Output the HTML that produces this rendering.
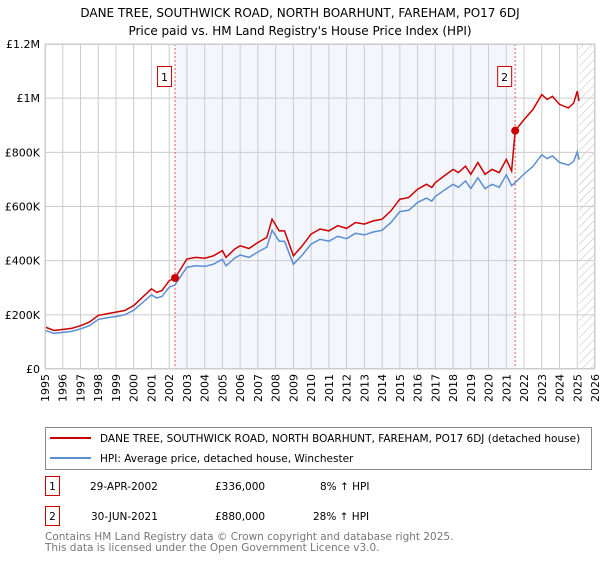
<!DOCTYPE html>
<html><head><meta charset="utf-8"><style>
body{margin:0;background:#fff;font-family:"Liberation Sans","DejaVu Sans",sans-serif;}
svg text{font-family:"DejaVu Sans","Liberation Sans",sans-serif;}
</style></head><body>
<svg width="600" height="560" id="chart">
<text x="300" y="17" text-anchor="middle" font-size="12">DANE TREE, SOUTHWICK ROAD, NORTH BOARHUNT, FAREHAM, PO17 6DJ</text>
<text x="300" y="35" text-anchor="middle" font-size="12">Price paid vs. HM Land Registry's House Price Index (HPI)</text>
<g id="plot"></g>
<g>
<rect x="45.5" y="427.5" width="546" height="42" fill="#fff" stroke="#888"/>
<line x1="50" y1="438" x2="91" y2="438" stroke="#cc0000" stroke-width="2"/>
<text x="100" y="442" font-size="10.5">DANE TREE, SOUTHWICK ROAD, NORTH BOARHUNT, FAREHAM, PO17 6DJ (detached house)</text>
<line x1="50" y1="458" x2="91" y2="458" stroke="#5b8fd1" stroke-width="2"/>
<text x="100" y="462" font-size="10.5">HPI: Average price, detached house, Winchester</text>
</g>
<g font-size="10.5">
<rect x="45.5" y="476.5" width="14" height="19" fill="#fff" stroke="#cc0000"/>
<text x="52.5" y="490" text-anchor="middle">1</text>
<text x="90" y="490">29-APR-2002</text><text x="215" y="490">£336,000</text><text x="320" y="490">8% ↑ HPI</text>
<rect x="45.5" y="506.5" width="14" height="19" fill="#fff" stroke="#cc0000"/>
<text x="52.5" y="520" text-anchor="middle">2</text>
<text x="91" y="520">30-JUN-2021</text><text x="215" y="520">£880,000</text><text x="313" y="520">28% ↑ HPI</text>
</g>
<text x="45" y="540" font-size="10.5" fill="#777">Contains HM Land Registry data © Crown copyright and database right 2025.</text>
<text x="45" y="551" font-size="10.5" fill="#777">This data is licensed under the Open Government Licence v3.0.</text>
</svg>
<script>
const years=[1995,1995.5,1996.5,1997,1997.5,1998,1998.5,1999,1999.5,2000,2000.5,2001,2001.3,2001.6,2002,2002.33,2003,2003.5,2004,2004.5,2005,2005.2,2005.7,2006,2006.5,2007,2007.5,2007.8,2008.2,2008.5,2009,2009.5,2010,2010.5,2011,2011.5,2012,2012.5,2013,2013.5,2014,2014.5,2015,2015.5,2016,2016.5,2016.8,2017,2017.5,2018,2018.3,2018.7,2019,2019.4,2019.8,2020.2,2020.6,2021,2021.3,2021.5,2022,2022.5,2023,2023.3,2023.6,2024,2024.5,2024.8,2025,2025.1];
const priceSeries=[155,142,150,160,173,198,204,210,216,234,265,296,283,290,326,336,406,412,409,418,437,412,443,455,445,467,486,553,510,510,418,455,498,517,510,529,519,541,535,547,553,584,627,633,664,682,670,688,713,737,725,749,719,762,719,737,725,774,731,880,921,958,1013,995,1007,977,964,982,1026,989];
const hpiSeries=[143,132,139,148,160,183,189,194,200,217,245,274,262,268,302,311,376,381,379,387,405,381,410,421,412,432,450,512,472,472,387,421,461,479,472,490,481,501,495,506,512,541,581,586,615,631,620,637,660,682,671,694,666,706,666,682,671,717,677,688,720,748,791,777,787,763,753,767,802,773];
const yTicks=[0,200,400,600,800,1000,1200];
const yTickLabels=["£0","£200K","£400K","£600K","£800K","£1M","£1.2M"];
const xTicks=[1995,1996,1997,1998,1999,2000,2001,2002,2003,2004,2005,2006,2007,2008,2009,2010,2011,2012,2013,2014,2015,2016,2017,2018,2019,2020,2021,2022,2023,2024,2025,2026];
const saleYears=[2002.33,2021.5];
const salePrices=[336,880];
const saleLabels=["1","2"];

const NS="http://www.w3.org/2000/svg";
const L=45,R=595,T=44,B=369;
const xs=y=>L+(y-1995)/(2026-1995)*(R-L);
const ys=v=>B-v/1200*(B-T);
const g=document.getElementById('plot');
function mk(tag,attrs,parent){const e=document.createElementNS(NS,tag);for(const k in attrs)e.setAttribute(k,attrs[k]);(parent||g).appendChild(e);return e;}
let e;
e=mk('rect',{x:xs(saleYears[0]),y:T,width:xs(saleYears[1])-xs(saleYears[0]),height:B-T,fill:'#f3f6fd'});


const defs=mk('defs',{});
const pat=mk('pattern',{id:'hatch',width:6,height:6,patternUnits:'userSpaceOnUse',patternTransform:'rotate(45)'},defs);
mk('line',{x1:0,y1:0,x2:0,y2:6,stroke:'#bbb','stroke-width':1},pat);
e=mk('rect',{x:xs(2025.1),y:T,width:R-xs(2025.1),height:B-T,fill:'url(#hatch)'});


xTicks.forEach(t=>{
 e=mk('line',{x1:xs(t),y1:T,x2:xs(t),y2:B,stroke:'#ccc','stroke-width':1});
 
 
 e=mk('text',{x:0,y:0,'font-size':11,'text-anchor':'end',transform:`translate(${xs(t)+4},374) rotate(-90)`});
 e.textContent=t;
 
 
});
yTicks.forEach((t,i)=>{
 e=mk('line',{x1:L,y1:ys(t),x2:R,y2:ys(t),stroke:'#ccc','stroke-width':1});
 
 
 e=mk('text',{x:40,y:ys(t)+4,'font-size':11,'text-anchor':'end'});
 e.textContent=yTickLabels[i];
 
 
});
saleYears.forEach((s,i)=>{
 e=mk('line',{x1:xs(s),y1:T,x2:xs(s),y2:B,stroke:'#e55','stroke-width':1,'stroke-dasharray':'2,2'});
 
 
 e=mk('rect',{x:xs(s)-17.5,y:66.5,width:14,height:20,fill:'#fff',stroke:'#cc0000'});
 
 
 e=mk('text',{x:xs(s)-10.5,y:81,'font-size':11,'text-anchor':'middle'});
 e.textContent=saleLabels[i];
 
 
});
const pts=a=>a.map((v,i)=>xs(years[i]).toFixed(1)+','+ys(v).toFixed(1)).join(' ');
e=mk('polyline',{points:pts(hpiSeries),fill:'none',stroke:'#5b8fd1','stroke-width':1.5});


e=mk('polyline',{points:pts(priceSeries),fill:'none',stroke:'#cc0000','stroke-width':1.5});


saleYears.forEach((s,i)=>{
 e=mk('circle',{cx:xs(s),cy:ys(salePrices[i]),r:4,fill:'#cc0000'});
 
 
});
e=mk('rect',{x:L+0.5,y:T+0.5,width:R-L-1,height:B-T-1,fill:'none',stroke:'#ccc'});


</script>
</body></html>
